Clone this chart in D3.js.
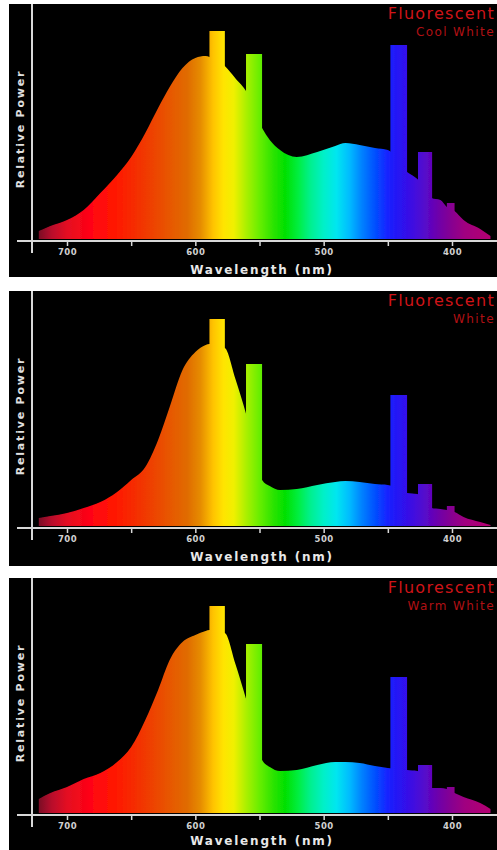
<!DOCTYPE html>
<html><head><meta charset="utf-8">
<script src="https://cdn.jsdelivr.net/npm/d3@7"></script>
<style>html,body{margin:0;padding:0;background:#fff;} svg{display:block}</style>
</head><body>
<script>
// ---------- data ----------
const wavelengths = [722,713,700,687,674,661,650,639,629,620,610,600,592,589,577,569,560,548,542,534,521,505,491,483,472,460,450,435,427,416,409,404,398,391,378,370];
const coolWhite  = [4,6.5,9.5,14.5,23,32,41,53,65.5,76,85.5,90.5,91.5,91,86.5,80.5,73.5,55.5,49.5,44.5,41,43.5,46.5,48,47,45.5,44.5,33.5,30,20.5,19.5,16,14,9.5,5,1.5];
const white      = [4,5,6.5,9,12,17,23,29.5,43,59.5,78,87,90.5,91,89,74,55,23,20,18,18.5,20.5,22,22.5,22,21,20.5,16.5,16,9,8.5,8,7,4.5,2,0.5];
const warmWhite  = [7,10,13,17,20,25.5,33,46.5,61.5,76.5,85.5,89,91,91.5,90,75,56,26.5,23,21,21.5,24,25.5,25.5,25,23.5,22.5,21.5,21,12.5,12.5,12,10,8,5,2];
const spikeBands = [[589,577],[560.5,548],[448,435],[426.5,415.5],[404,398]];
const coolWhiteSpikes = [104,92.5,97,43.5,18];
const whiteSpikes     = [103.5,81,65.5,21,10];
const warmWhiteSpikes = [103.5,84.5,68,24,13];
const tickValues = [700,650,600,550,500,450,400];
const tickLabels = ["700","","600","","500","","400"];
const titles    = ["Fluorescent","Fluorescent","Fluorescent"];
const subtitles = ["Cool White","White","Warm White"];
const colorStops = [
  [722,"#7a0a26"],[712,"#b80c2c"],[700,"#e40a22"],[682,"#ff0414"],[662,"#ff1800"],
  [642,"#f23400"],[622,"#e85400"],[606,"#e06c00"],[596,"#e68c00"],[586,"#ffc400"],
  [578,"#ffe400"],[570,"#f0f000"],[560,"#a8f000"],[550,"#68ee00"],[540,"#30e400"],
  [530,"#00e000"],[520,"#00ee40"],[510,"#00f090"],[500,"#00f0c8"],[490,"#00e6f0"],
  [480,"#00bcff"],[470,"#0080ff"],[460,"#0050ff"],[450,"#1822ff"],[440,"#2a12f0"],
  [430,"#4010e0"],[420,"#5808c8"],[410,"#7000a8"],[400,"#880090"],[390,"#a00080"],
  [370,"#b40070"]
];
const series = [
  {values: coolWhite, spikes: coolWhiteSpikes},
  {values: white, spikes: whiteSpikes},
  {values: warmWhite, spikes: warmWhiteSpikes}
];

// ---------- layout ----------
const W = 497, H = 850;
const panelTops = [4, 291, 578];
const panelHeights = [273, 275, 272];
const axisTitleY = [270, 270, 267];

const svg = d3.select("body").append("svg").attr("width", W).attr("height", H)
  .style("background", "#fff");

const x = d3.scaleLinear().domain([700, 400]).range([67, 452]);
const y = d3.scaleLinear().domain([0, 100]).range([235, 35]);

const defs = svg.append("defs");
const grad = defs.append("linearGradient").attr("id", "spec")
  .attr("gradientUnits", "userSpaceOnUse")
  .attr("x1", x(722)).attr("x2", x(370)).attr("y1", 0).attr("y2", 0);
const x0 = x(722), x1 = x(370);
colorStops.forEach(([l, c]) => {
  grad.append("stop").attr("offset", (x(l) - x0) / (x1 - x0)).attr("stop-color", c);
});
const blur = defs.append("filter").attr("id", "soft").attr("x", "-5%").attr("y", "-5%").attr("width", "110%").attr("height", "110%");
blur.append("feGaussianBlur").attr("stdDeviation", 0.7);

const area = d3.area()
  .x(d => x(d[0])).y0(y(0)).y1(d => y(d[1]))
  .curve(d3.curveMonotoneX);

series.forEach((s, i) => {
  const g = svg.append("g").attr("transform", `translate(0,${panelTops[i]})`);
  g.append("rect").attr("x", 9).attr("y", 0).attr("width", W - 9).attr("height", panelHeights[i]).attr("fill", "#000");

  const pts = wavelengths.map((l, j) => [l, s.values[j]]).sort((a, b) => x(a[0]) - x(b[0]));
  const sg = g.append("g").attr("filter", "url(#soft)");
  sg.append("path").attr("d", area(pts)).attr("fill", "url(#spec)");
  sg.selectAll("rect.spike").data(spikeBands.map((b, k) => ({b, v: s.spikes[k]})))
    .join("rect").attr("class", "spike")
    .attr("x", d => x(d.b[0])).attr("width", d => x(d.b[1]) - x(d.b[0]))
    .attr("y", d => y(d.v)).attr("height", d => y(0) - y(d.v))
    .attr("fill", "url(#spec)");

  // axes
  const axisColor = "#d8d8d8";
  g.append("line").attr("x1", 32).attr("x2", 32).attr("y1", 0).attr("y2", 249)
    .attr("stroke", axisColor).attr("stroke-width", 2);
  const ax = d3.axisBottom(x).tickValues(tickValues).tickSize(5)
    .tickFormat((d, k) => tickLabels[k]);
  const axG = g.append("g").attr("transform", "translate(0,237)").call(ax);
  axG.select(".domain").remove();
  axG.append("line").attr("x1", 17).attr("x2", W).attr("y1", 0).attr("y2", 0)
    .attr("stroke", axisColor).attr("stroke-width", 2);
  axG.selectAll(".tick line").attr("stroke", axisColor).attr("stroke-width", 1.5);
  axG.selectAll(".tick text").attr("fill", "#d0d0d0").attr("font-family", "DejaVu Sans")
    .attr("font-weight", "bold").attr("font-size", 8.5).attr("dy", "0.55em").attr("y", 9)
    .attr("letter-spacing", 0.5);

  g.append("text").attr("x", 262).attr("y", axisTitleY[i]).attr("text-anchor", "middle")
    .attr("fill", "#e8e8e8").attr("font-family", "DejaVu Sans").attr("font-weight", "bold")
    .attr("font-size", 12).attr("letter-spacing", 1.8).text("Wavelength (nm)");
  g.append("text").attr("transform", "translate(24,125) rotate(-90)").attr("text-anchor", "middle")
    .attr("fill", "#e0e0e0").attr("font-family", "DejaVu Sans").attr("font-weight", "bold")
    .attr("font-size", 11).attr("letter-spacing", 1.8).text("Relative Power");

  g.append("text").attr("x", 495).attr("y", 15).attr("text-anchor", "end")
    .attr("fill", "#d01418").attr("font-family", "DejaVu Sans").attr("font-size", 16)
    .attr("letter-spacing", 1.3).text(titles[i]);
  g.append("text").attr("x", 495).attr("y", 32).attr("text-anchor", "end")
    .attr("fill", "#b01014").attr("font-family", "DejaVu Sans").attr("font-size", 12)
    .attr("letter-spacing", 1.4).text(subtitles[i]);
});
</script>
</body></html>
